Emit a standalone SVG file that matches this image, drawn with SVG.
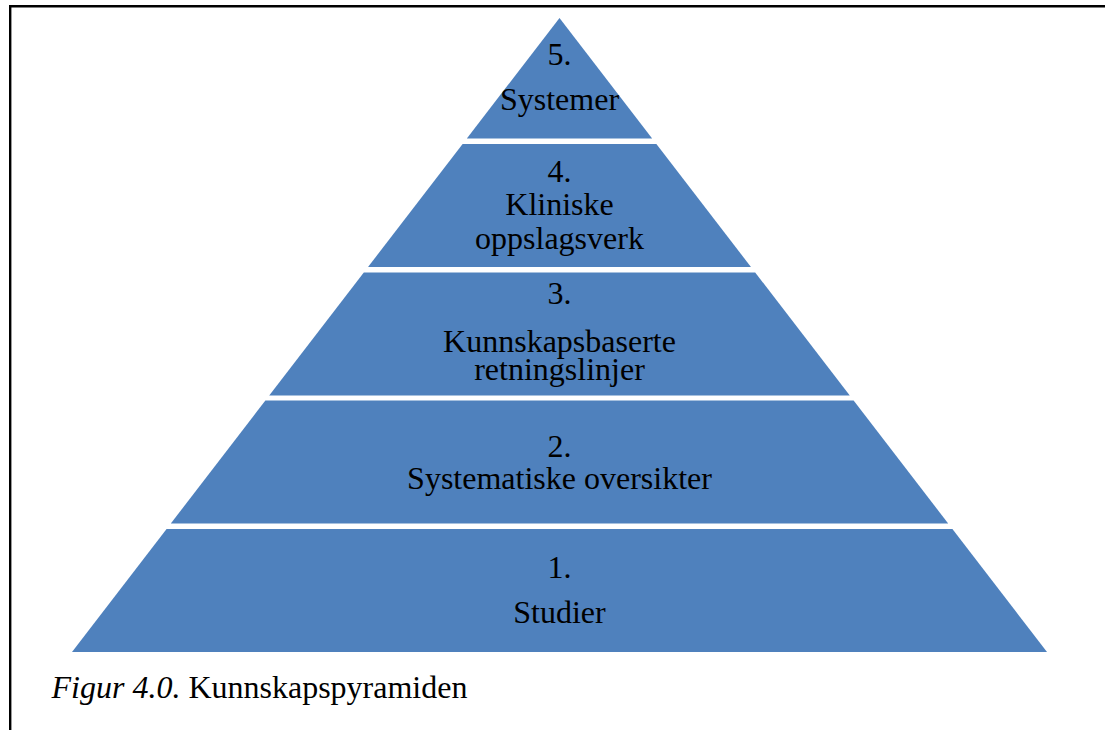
<svg xmlns="http://www.w3.org/2000/svg" width="1105" height="730" viewBox="0 0 1105 730">
  <style>
    .layer { fill: #4F81BD; }
    .label { font-size: 32px; fill: #000; text-anchor: middle; }
    .caption { font-size: 32px; fill: #000; }
    .frame { fill: none; stroke: #000; stroke-width: 2.4; }
  </style>
  <rect width="1105" height="730" fill="#fff"/>
  <!-- page frame: left and top rule -->
  <path class="frame" d="M10.2,730 V6.2 H1105"/>

  <!-- pyramid levels, bottom to top -->
  <g font-family="'Liberation Serif', 'Times New Roman', serif">
    <g id="level1">
      <polygon class="layer" points="166.58,529 952.42,529 1047,652 72,652"/>
      <text class="label" x="559.5" y="578">1.</text>
      <text class="label" x="559.5" y="623">Studier</text>
    </g>
    <g id="level2">
      <polygon class="layer" points="265.38,400.5 853.62,400.5 948.19,523.5 170.81,523.5"/>
      <text class="label" x="559.5" y="456.5">2.</text>
      <text class="label" x="559.5" y="488.5">Systematiske oversikter</text>
    </g>
    <g id="level3">
      <polygon class="layer" points="363.81,272.5 755.19,272.5 849.77,395.5 269.23,395.5"/>
      <text class="label" x="559.5" y="303.5">3.</text>
      <text class="label" x="559.5" y="351.5">Kunnskapsbaserte</text>
      <text class="label" x="559.5" y="380">retningslinjer</text>
    </g>
    <g id="level4">
      <polygon class="layer" points="462.61,144 656.39,144 750.96,267 368.04,267"/>
      <text class="label" x="559.5" y="181.5">4.</text>
      <text class="label" x="559.5" y="215">Kliniske</text>
      <text class="label" x="559.5" y="248.5">oppslagsverk</text>
    </g>
    <g id="level5">
      <polygon class="layer" points="559.5,18 652.16,138.5 466.84,138.5"/>
      <text class="label" x="559.5" y="65">5.</text>
      <text class="label" x="559.5" y="110">Systemer</text>
    </g>

    <g id="connectors"/>

    <text class="caption" x="51.5" y="697.5"><tspan font-style="italic">Figur 4.0.</tspan> Kunnskapspyramiden</text>
  </g>
</svg>
